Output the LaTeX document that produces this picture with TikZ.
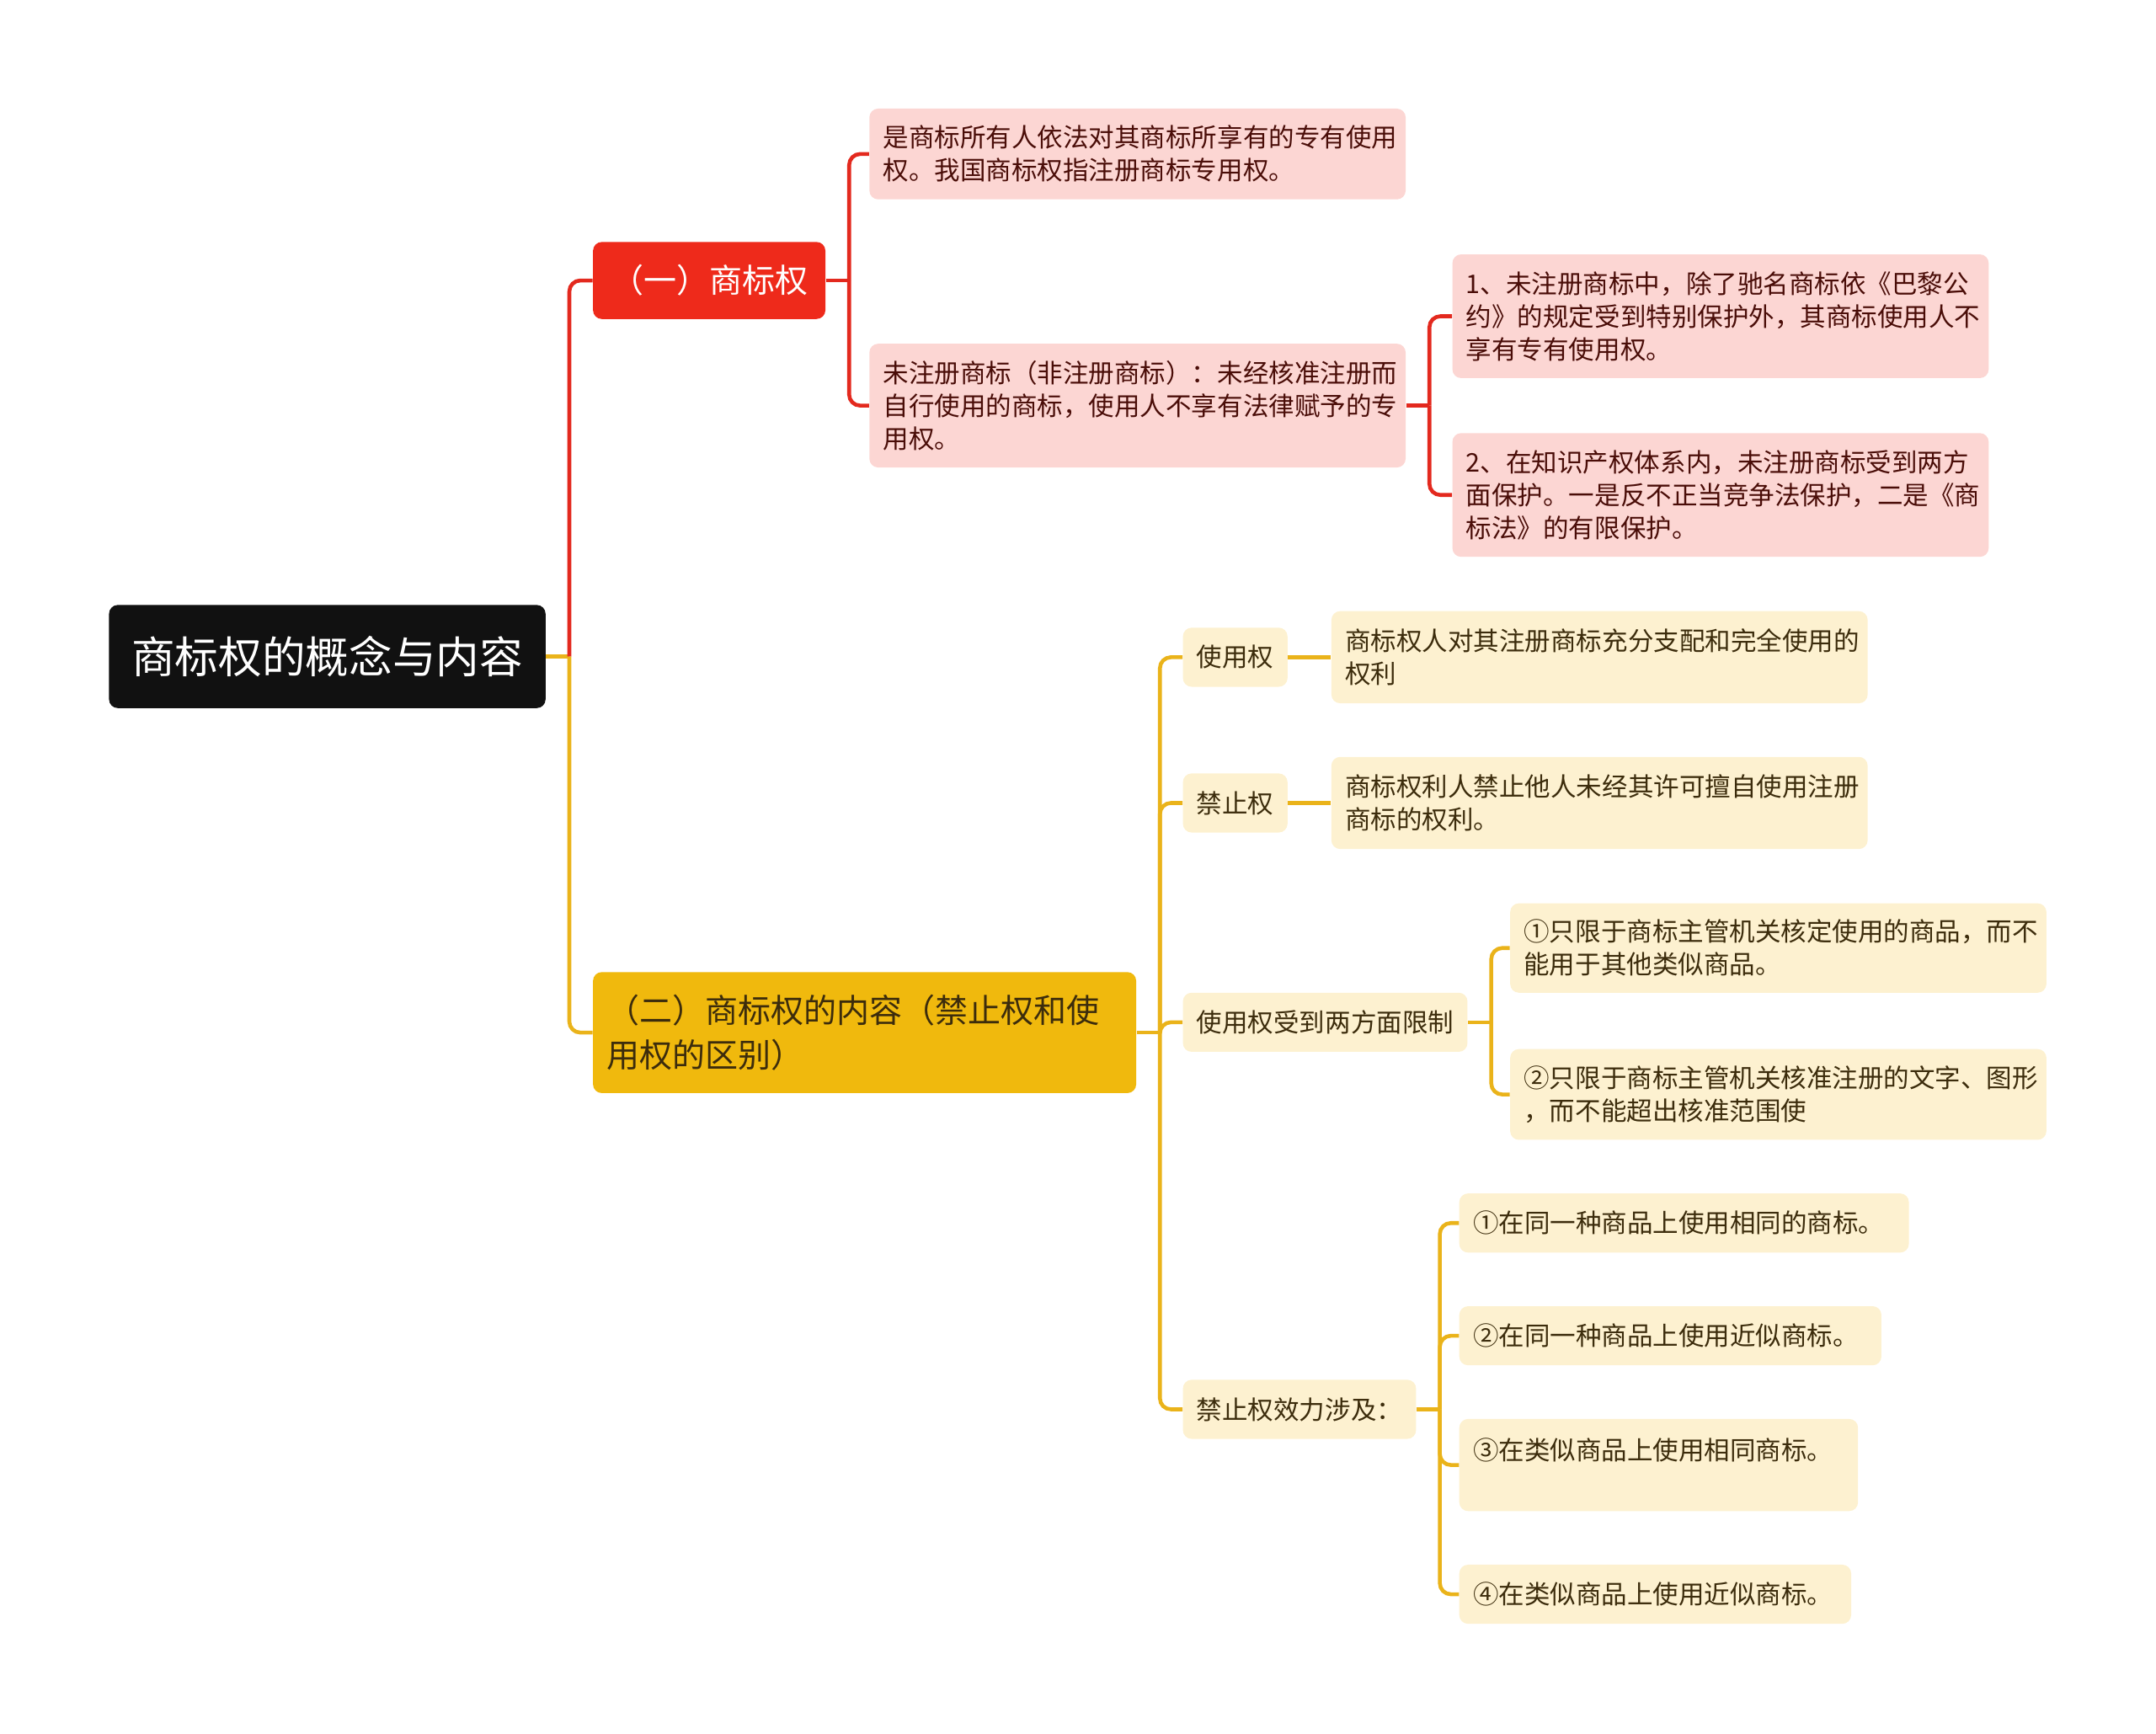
\documentclass[tikz,border=0pt]{standalone}
\usepackage{fontspec}
\newfontfamily\cjk{Noto Sans CJK SC}
\definecolor{rootblack}{HTML}{111111}
\definecolor{redmain}{HTML}{EE2A1B}
\definecolor{redline}{HTML}{E3291E}
\definecolor{pinkbox}{HTML}{FCD6D3}
\definecolor{pinktext}{HTML}{4A0D08}
\definecolor{yellowmain}{HTML}{F0B90D}
\definecolor{yellowline}{HTML}{EAB31A}
\definecolor{creambox}{HTML}{FDF1D0}
\definecolor{creamtext}{HTML}{3C2C0C}
\tikzset{
    base/.style={anchor=west, rounded corners=1.6mm, inner xsep=2.5mm, inner ysep=1mm,
        font=\cjk\fontsize{13.3pt}{17pt}\selectfont},
    rootbox/.style={base, fill=rootblack, text=white, inner xsep=4.1mm, minimum height=18.75mm,
        font=\cjk\fontsize{22.5pt}{28pt}\selectfont},
    redbox/.style={base, fill=redmain, text=white, inner xsep=3.2mm, minimum height=14mm,
        font=\cjk\fontsize{17pt}{22.7pt}\selectfont},
    yellowbox/.style={base, fill=yellowmain, text=creamtext, align=left, text width=93.75mm,
        minimum height=22mm, font=\cjk\fontsize{17pt}{22.7pt}\selectfont},
    pinkleaf/.style={base, fill=pinkbox, text=pinktext, align=left, text width=92.5mm},
    creamleaf/.style={base, fill=creambox, text=creamtext, align=left},
    creamtag/.style={base, fill=creambox, text=creamtext, minimum height=10.75mm},
    rline/.style={draw=redline, line width=0.7mm, rounded corners=2mm},
    yline/.style={draw=yellowline, line width=0.7mm, rounded corners=2mm}
}
\begin{document}
\begin{tikzpicture}[x=0.25mm, y=-0.25mm]
    \useasboundingbox (0,0) rectangle (1568,1261);
    \node[rootbox] (R) at (79,477.5) {商标权的概念与内容};
    \node[redbox] (A) at (431,204) {（一）商标权};
    \node[yellowbox] (B) at (431,751) {（二）商标权的内容（禁止权和使\\用权的区别）};

    \node[pinkleaf, minimum height=16.5mm] (A1) at (632,112)
        {是商标所有人依法对其商标所享有的专有使用\\权。我国商标权指注册商标专用权。};
    \node[pinkleaf, minimum height=22.5mm] (A2) at (632,295)
        {未注册商标（非注册商标）：未经核准注册而\\自行使用的商标，使用人不享有法律赋予的专\\用权。};
    \node[pinkleaf, minimum height=22.5mm] (A2a) at (1056,230)
        {1、未注册商标中，除了驰名商标依《巴黎公\\约》的规定受到特别保护外，其商标使用人不\\享有专有使用权。};
    \node[pinkleaf, minimum height=22.5mm] (A2b) at (1056,360)
        {2、在知识产权体系内，未注册商标受到两方\\面保护。一是反不正当竞争法保护，二是《商\\标法》的有限保护。};

    \node[creamtag] (B1) at (860,478) {使用权};
    \node[creamleaf, text width=92.5mm, minimum height=16.75mm] (B1a) at (968,478)
        {商标权人对其注册商标充分支配和完全使用的\\权利};
    \node[creamtag] (B2) at (860,584) {禁止权};
    \node[creamleaf, text width=92.5mm, minimum height=16.75mm] (B2a) at (968,584)
        {商标权利人禁止他人未经其许可擅自使用注册\\商标的权利。};
    \node[creamtag] (B3) at (860,743.5) {使用权受到两方面限制};
    \node[creamleaf, text width=92.5mm, minimum height=16.25mm] (B3a) at (1098,689.5)
        {①只限于商标主管机关核定使用的商品，而不\\能用于其他类似商品。};
    \node[creamleaf, text width=92.5mm, minimum height=16.5mm] (B3b) at (1098,796)
        {②只限于商标主管机关核准注册的文字、图形\\，而不能超出核准范围使};
    \node[creamtag] (B4) at (860,1025) {禁止权效力涉及：};
    \node[creamleaf, text width=76.75mm, minimum height=10.75mm] (B4a) at (1061,889.5)
        {①在同一种商品上使用相同的商标。};
    \node[creamleaf, text width=71.75mm, minimum height=10.75mm] (B4b) at (1061,971.5)
        {②在同一种商品上使用近似商标。};
    \node[creamleaf, text width=67.5mm, minimum height=16.75mm] (B4c) at (1061,1065.5)
        {③在类似商品上使用相同商标。\\\mbox{}};
    \node[creamleaf, text width=66.25mm, minimum height=10.75mm] (B4d) at (1061,1159.5)
        {④在类似商品上使用近似商标。};

    \path (R.east) ++(17,0) coordinate (jR);
    \path (A.east) ++(17,0) coordinate (jA);
    \path (A2.east) ++(17,0) coordinate (jA2);
    \path (B.east) ++(17,0) coordinate (jB);
    \path (B3.east) ++(17,0) coordinate (jB3);
    \path (B4.east) ++(17,0) coordinate (jB4);

    \draw[yline] (R.east) -- (jR);
    \draw[rline] (jR) |- (A.west);
    \draw[yline] (jR) |- (B.west);

    \draw[rline] (A.east) -- (jA);
    \draw[rline] (jA) |- (A1.west);
    \draw[rline] (jA) |- (A2.west);
    \draw[rline] (A2.east) -- (jA2);
    \draw[rline] (jA2) |- (A2a.west);
    \draw[rline] (jA2) |- (A2b.west);

    \draw[yline] (B.east) -- (jB);
    \foreach \k in {B1,B2,B3,B4}
        \draw[yline] (jB) |- (\k.west);
    \draw[yline] (B1.east) -- (B1a.west);
    \draw[yline] (B2.east) -- (B2a.west);
    \draw[yline] (B3.east) -- (jB3);
    \draw[yline] (jB3) |- (B3a.west);
    \draw[yline] (jB3) |- (B3b.west);
    \draw[yline] (B4.east) -- (jB4);
    \foreach \k in {B4a,B4b,B4c,B4d}
        \draw[yline] (jB4) |- (\k.west);
\end{tikzpicture}
\end{document}
